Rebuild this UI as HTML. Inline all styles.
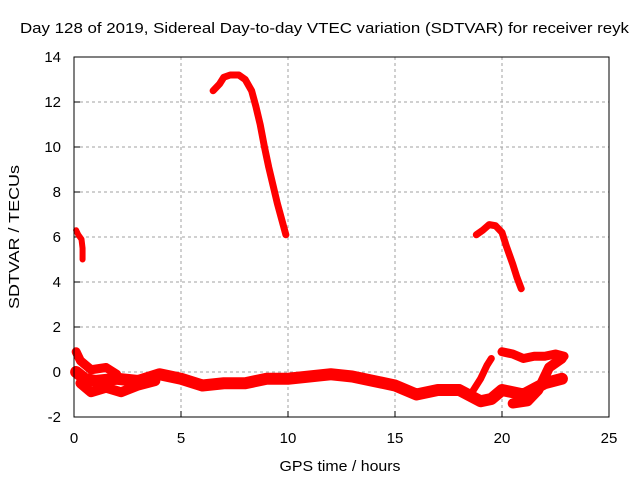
<!DOCTYPE html>
<html><head><meta charset="utf-8"><style>
body{margin:0;background:#fff}
svg{display:block;font-family:"Liberation Sans",sans-serif}
</style></head><body>
<svg id="chart" width="640" height="480">
<text x="20" y="33" font-size="15" textLength="609" lengthAdjust="spacingAndGlyphs">Day 128 of 2019, Sidereal Day-to-day VTEC variation (SDTVAR) for receiver reyk</text>
<g id="grid"></g>
<g id="axes"></g>
<g id="series"></g>
<rect x="74" y="57" width="535" height="360" fill="none" stroke="#000" stroke-width="1"/>
<text x="340" y="471" font-size="15" textLength="121" lengthAdjust="spacingAndGlyphs" text-anchor="middle">GPS time / hours</text>
<text transform="translate(19,237) rotate(-90)" font-size="15" textLength="144" lengthAdjust="spacingAndGlyphs" text-anchor="middle">SDTVAR / TECUs</text>
</svg>
<script>
const xTicks=[0,5,10,15,20,25];
const yTicks=[-2,0,2,4,6,8,10,12,14];
const arcX=[6.5,6.8,7.0,7.3,7.7,8.0,8.3,8.5,8.7,8.9,9.1,9.3,9.5,9.7,9.9];
const arcY=[12.5,12.8,13.1,13.2,13.2,13.0,12.5,11.8,11.0,10.0,9.1,8.3,7.5,6.8,6.1];
const arc2X=[18.8,19.1,19.4,19.7,20.0,20.2,20.5,20.7,20.9];
const arc2Y=[6.1,6.3,6.55,6.5,6.2,5.6,4.8,4.2,3.7];
const earlyX=[0.1,0.2,0.35,0.4,0.4];
const earlyY=[6.3,6.1,5.9,5.5,5.0];
const bandX=[0.1,0.5,1,2,3,4,5,6,7,8,9,10,11,12,13,14,15,16,17,18,18.6,19,19.5,20,21,22,22.8];
const bandY=[0.0,-0.3,-0.4,-0.3,-0.4,-0.1,-0.3,-0.6,-0.5,-0.5,-0.3,-0.3,-0.2,-0.1,-0.2,-0.4,-0.6,-1.0,-0.8,-0.8,-1.1,-1.3,-1.2,-0.8,-1.0,-0.5,-0.3];
const lowX=[0.3,0.8,1.5,2.2,3.0,3.8];
const lowY=[-0.5,-0.9,-0.7,-0.9,-0.6,-0.4];
const upX=[0.1,0.3,0.8,1.5,2.0];
const upY=[0.9,0.5,0.1,0.2,-0.1];
const spikeX=[18.6,19.0,19.3,19.5];
const spikeY=[-0.9,-0.3,0.3,0.6];
const lateX=[20.0,20.5,21.0,21.5,22.0,22.5,22.9];
const lateY=[0.9,0.8,0.6,0.7,0.7,0.8,0.7];
const diagX=[20.5,21.2,21.7,22.2,22.8];
const diagY=[-1.4,-1.3,-0.8,0.2,0.6];

const X=v=>74+v*(535/25);
const Y=v=>372-v*22.5;
const NS="http://www.w3.org/2000/svg";
const grid=document.getElementById('grid'),axes=document.getElementById('axes'),ser=document.getElementById('series');
function mk(t,a,p){const e=document.createElementNS(NS,t);for(const k in a)e.setAttribute(k,a[k]);p.appendChild(e);return e;}
xTicks.forEach(t=>{
 const x=X(t);
 if(t>0&&t<25){const g=mk('line',{x1:x,x2:x,y1:57,y2:417,stroke:'#a0a0a0','stroke-dasharray':'3,3'},grid);
 
 }
 const tk=mk('line',{x1:x,x2:x,y1:417,y2:411,stroke:'#000'},axes);
 
 
 const l=mk('text',{x:x,y:443,'font-size':15,'text-anchor':'middle'},axes);l.textContent=t;
 
 
});
yTicks.forEach(t=>{
 const y=Y(t);
 if(t>-2&&t<14){const g=mk('line',{x1:74,x2:609,y1:y,y2:y,stroke:'#a0a0a0','stroke-dasharray':'3,3'},grid);
 
 }
 const tk=mk('line',{x1:74,x2:80,y1:y,y2:y,stroke:'#000'},axes);
 
 
 const l=mk('text',{x:61,y:y+5,'font-size':15,'text-anchor':'end'},axes);l.textContent=t;
 
 
});
function line(xs,ys,w,name){
 const pts=xs.map((v,i)=>X(v)+','+Y(ys[i])).join(' ');
 const p=mk('polyline',{points:pts,fill:'none',stroke:'#ff0000','stroke-width':w,'stroke-linejoin':'round','stroke-linecap':'round'},ser);
 
 
}
line(arcX,arcY,7,'arc-series-morning');
line(arc2X,arc2Y,7,'arc-series-evening');
line(earlyX,earlyY,6,'early-series');
line(bandX,bandY,12,'baseline-band');
line(lowX,lowY,10,'lower-band');
line(upX,upY,9,'upper-band');
line(spikeX,spikeY,7,'spike-series');
line(lateX,lateY,9,'late-band');
line(diagX,diagY,10,'diagonal-band');
</script>
</body></html>
